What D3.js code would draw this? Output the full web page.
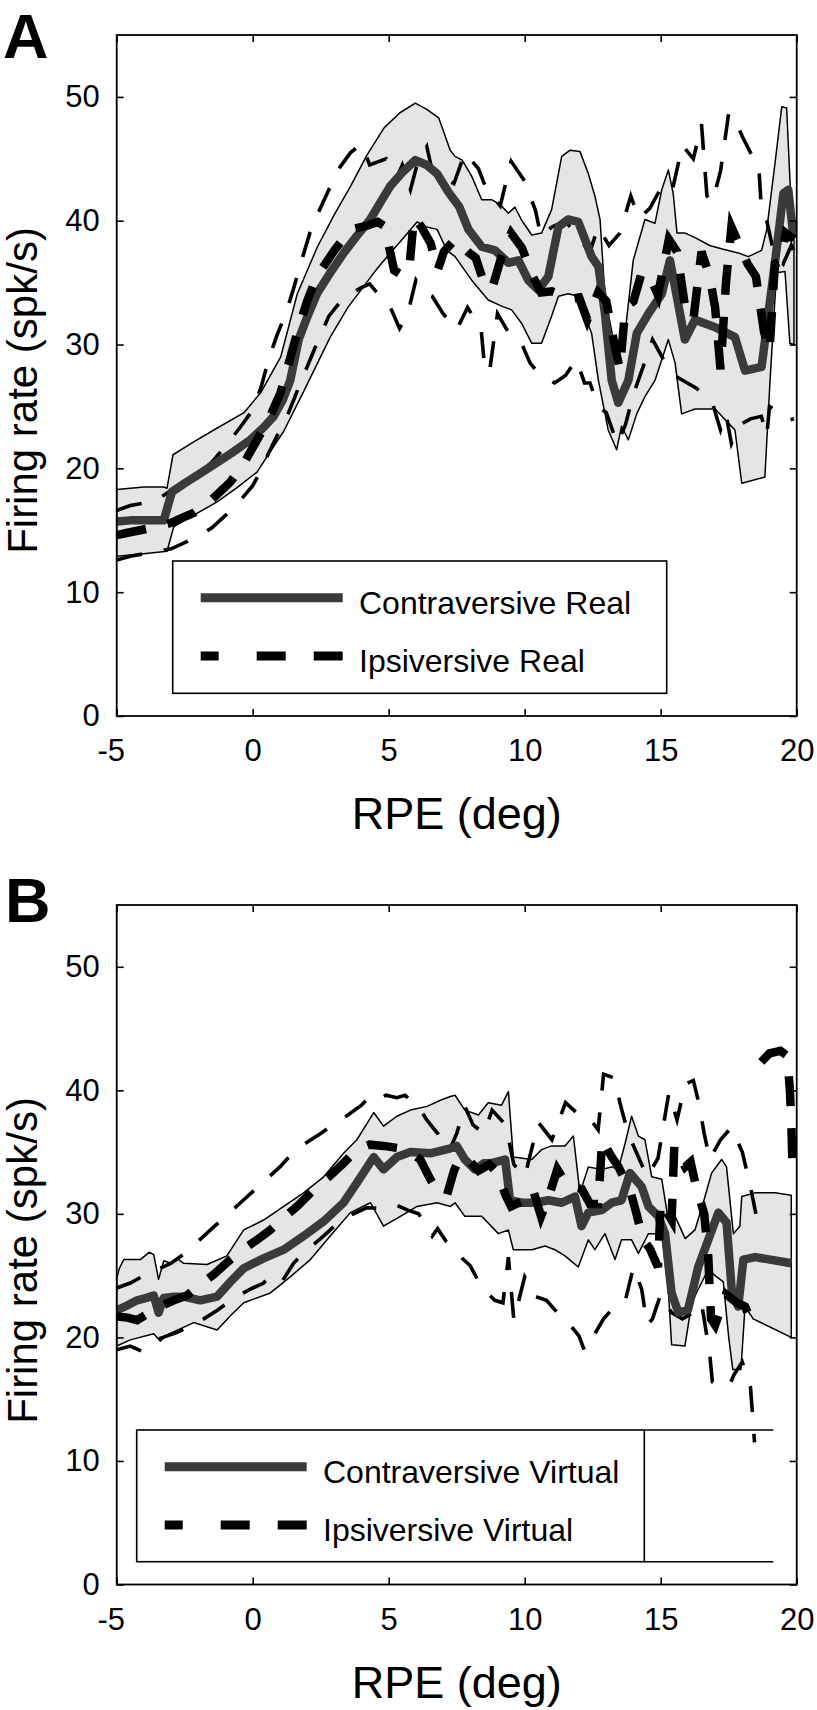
<!DOCTYPE html>
<html><head><meta charset="utf-8">
<script src="https://cdn.jsdelivr.net/npm/d3@7"></script>
<style>
body{margin:0;background:#fff}
svg{display:block}
text{font-family:"Liberation Sans",Arial,Helvetica,sans-serif;fill:#000}
</style>
</head><body>
<svg id="c" width="817" height="1710"></svg>
<script>
// ---------- tick values / domains ----------
const xTicks = [-5, 0, 5, 10, 15, 20];
const yTicks = [0, 10, 20, 30, 40, 50];
const xDomain = [-5, 20];
const yDomain = [0, 55];
const xLabel = "RPE (deg)";
const yLabel = "Firing rate (spk/s)";
const legendA = ["Contraversive Real", "Ipsiversive Real"];
const legendB = ["Contraversive Virtual", "Ipsiversive Virtual"];

// ---------- Panel A (Real) ----------
const contraA_mean = [[-5,15.7],[-4.5,15.8],[-4,15.8],[-3.5,15.8],[-3.27,15.8],[-2.97,18.1],[-2.5,18.8],[-2,19.5],[-1.43,20.3],[-0.8,21.2],[-0.09,22.3],[0.4,23.3],[0.77,24.2],[1.1,25.5],[1.38,27.1],[1.69,30.4],[2.0,32.2],[2.36,34.1],[2.85,35.8],[3.35,37.4],[3.8,38.7],[4.32,40.1],[4.7,41.5],[5.06,42.8],[5.5,43.9],[5.98,44.9],[6.4,44.5],[6.78,43.8],[7.2,42.3],[7.6,41.1],[7.93,39.3],[8.42,37.9],[8.91,37.6],[9.4,36.6],[9.77,36.8],[10.13,35.2],[10.5,34.4],[10.87,35.5],[11.24,39.5],[11.6,40.1],[11.97,39.9],[12.46,37.1],[12.71,36.3],[12.95,32.5],[13.2,27.1],[13.44,25.3],[13.81,27.1],[14.12,30.9],[14.55,32.5],[15.04,34.1],[15.34,36.8],[15.59,33.9],[15.89,30.4],[16.26,32.0],[17.0,31.4],[17.73,30.6],[18.1,27.9],[18.71,28.2],[18.96,32.5],[19.2,36.6],[19.51,42.2],[19.69,42.5],[19.88,38.7]];
const contraA_upper = [[-5,18.3],[-4,18.5],[-3.27,18.5],[-3.15,18.4],[-2.93,21.1],[-2.2,22.1],[-1.43,23.1],[-0.32,24.5],[0.29,26.1],[1.03,29.0],[1.64,34.1],[2.38,37.9],[3.0,40.5],[3.6,42.8],[4.2,45.3],[4.83,47.5],[5.4,48.7],[5.98,49.5],[6.4,49.0],[6.84,48.3],[7.26,45.7],[7.44,45.2],[7.7,44.9],[8.05,43.6],[8.42,41.7],[8.78,41.7],[9.1,41.3],[9.4,40.6],[9.64,41.1],[9.9,40.0],[10.26,38.85],[10.62,39.0],[10.99,40.9],[11.36,45.2],[11.67,45.7],[12.03,45.6],[12.34,43.8],[12.58,42.0],[12.77,40.1],[12.95,33.9],[13.38,29.0],[13.69,30.9],[13.99,36.8],[14.42,40.1],[14.79,39.8],[15.04,42.5],[15.28,44.1],[15.46,42.2],[15.6,39.0],[15.9,39.0],[16.3,38.6],[16.8,38.0],[17.3,37.7],[17.85,37.4],[18.22,37.1],[18.71,37.6],[18.9,39.3],[19.2,44.6],[19.45,49.2],[19.63,49.1],[19.81,40.5],[19.9,40.0]];
const contraA_lower = [[-5,12.9],[-4,13.1],[-3.15,13.3],[-2.9,15.3],[-2.1,16.3],[-1.31,17.3],[-0.6,18.4],[0.16,19.7],[0.6,21.2],[1.14,23.0],[1.87,26.2],[2.85,30.6],[3.5,33.0],[4.08,34.7],[4.6,36.2],[5.06,37.4],[5.5,38.5],[6.04,39.9],[6.4,39.5],[6.78,39.3],[7.14,37.6],[7.44,37.1],[8.05,35.2],[8.66,33.6],[9.15,33.1],[9.52,32.8],[9.89,31.7],[10.26,30.1],[10.62,30.1],[10.99,32.3],[11.24,33.9],[11.6,34.1],[11.97,33.9],[12.22,32.3],[12.46,30.9],[12.71,27.1],[13.07,23.1],[13.38,21.5],[13.56,23.4],[13.81,22.3],[14.12,24.4],[14.42,25.8],[14.79,27.1],[15.28,30.4],[15.53,28.5],[15.77,24.4],[16.26,24.8],[17.0,24.8],[17.73,23.1],[17.98,18.8],[18.83,19.3],[19.02,27.1],[19.26,35.8],[19.57,35.9],[19.75,30.1],[19.9,30.0]];
const ipsiA_mean = [[-5,14.6],[-4.6,14.8],[-4.14,15.0],[-3.5,15.3],[-3.0,15.6],[-2.6,16.0],[-2.17,16.4],[-1.5,17.5],[-0.82,18.9],[-0.3,20.5],[0.16,22.3],[0.6,24.0],[1.02,26.1],[1.3,28.3],[1.63,30.9],[2.0,33.5],[2.36,35.5],[3.0,37.6],[3.6,39.3],[4.2,39.6],[4.6,39.9],[4.82,39.6],[5.0,38.0],[5.2,36.0],[5.5,35.6],[5.75,36.0],[5.93,40.3],[6.2,39.5],[6.54,38.2],[6.8,36.0],[7.03,37.5],[7.44,38.5],[7.9,37.5],[8.2,37.0],[8.5,35.0],[8.8,34.5],[9.2,37.5],[9.5,39.0],[9.9,37.8],[10.3,35.5],[10.6,34.2],[11.0,34.3],[11.4,34.0],[11.7,33.7],[12.0,33.8],[12.3,32.0],[12.7,34.2],[13.0,33.5],[13.3,30.0],[13.5,28.0],[13.7,33.0],[14.0,33.5],[14.3,35.8],[14.6,35.5],[14.9,34.0],[15.3,38.5],[15.6,37.5],[15.9,33.0],[16.2,32.0],[16.5,37.5],[16.8,35.5],[17.0,33.0],[17.2,28.0],[17.4,35.0],[17.6,39.5],[17.9,38.0],[18.2,36.5],[18.5,35.5],[18.8,31.0],[19.0,29.5],[19.2,36.5],[19.4,36.7],[19.6,39.0],[19.9,38.5]];
const ipsiA_upper = [[-5,16.6],[-4.5,17.0],[-4,17.2],[-3.5,17.5],[-3,18.2],[-2.5,18.8],[-2,19.5],[-1.5,20.5],[-1,21.8],[-0.5,23.2],[0,24.7],[0.3,26.5],[0.6,28.9],[0.9,30.8],[1.2,32.4],[1.5,34.5],[1.8,36.8],[2.1,39.0],[2.4,40.6],[2.8,42.5],[3.2,44.3],[3.6,45.5],[4.0,46.2],[4.3,44.5],[4.9,45.0],[5.2,43.0],[5.5,44.5],[5.8,42.5],[6.1,45.0],[6.4,46.0],[6.6,44.0],[7.0,43.5],[7.4,43.0],[7.8,45.5],[8.3,44.2],[8.6,42.5],[9.1,41.2],[9.5,44.8],[10.0,43.2],[10.4,40.8],[10.6,38.7],[11.0,39.5],[11.5,40.0],[12.0,38.5],[12.4,37.5],[12.7,39.5],[13.1,38.0],[13.5,39.0],[13.9,42.0],[14.2,40.2],[14.6,41.0],[15.0,42.6],[15.4,42.2],[15.8,46.1],[16.2,45.0],[16.5,47.8],[16.7,42.0],[16.9,41.5],[17.2,44.0],[17.5,48.7],[17.8,47.8],[18.0,46.8],[18.3,45.5],[18.6,44.6],[18.7,41.0],[18.9,40.0],[19.2,37.0],[19.5,36.5],[19.8,38.0],[19.9,37.5]];
const ipsiA_lower = [[-5,12.6],[-4.5,12.9],[-4,13.1],[-3.5,13.3],[-3,13.5],[-2.5,14.0],[-2,14.5],[-1.5,15.2],[-1,16.2],[-0.5,17.3],[0,18.6],[0.3,19.8],[0.6,21.3],[1.0,23.1],[1.3,24.4],[1.7,26.6],[2.0,28.2],[2.4,30.3],[2.8,32.3],[3.2,33.4],[3.6,34.1],[4.0,34.6],[4.3,34.9],[4.6,34.1],[4.9,33.6],[5.1,32.8],[5.4,31.3],[5.7,32.5],[6.0,35.2],[6.3,34.2],[6.6,33.9],[7.0,32.5],[7.5,31.2],[7.9,33.0],[8.4,31.2],[8.5,28.8],[8.7,27.7],[9.0,32.5],[9.5,30.6],[9.9,30.0],[10.2,28.5],[10.5,27.7],[11.1,26.9],[11.5,27.5],[11.9,28.8],[12.2,26.9],[12.4,26.9],[12.7,25.0],[13.0,24.5],[13.4,22.0],[13.7,23.5],[14.0,26.0],[14.4,28.5],[14.7,30.4],[15.1,28.8],[15.5,27.5],[15.9,27.0],[16.3,26.5],[16.9,25.3],[17.2,23.1],[17.4,24.4],[17.6,22.0],[17.9,23.5],[18.3,24.0],[18.7,24.2],[18.9,22.6],[19.0,25.0],[19.3,24.6],[19.7,23.9],[19.9,24.0]];

// ---------- Panel B (Virtual) ----------
const contraB_mean = [[-5,22.2],[-4.6,22.6],[-4.25,23.0],[-3.9,23.2],[-3.64,23.4],[-3.46,22.0],[-3.27,23.2],[-2.9,23.3],[-2.54,23.3],[-1.93,23.0],[-1.31,23.3],[-0.82,24.5],[-0.33,25.6],[0.4,26.4],[1.14,27.1],[1.87,28.2],[2.61,29.4],[3.34,30.9],[3.83,32.5],[4.45,34.6],[4.81,33.6],[5.3,34.6],[5.8,35.0],[6.53,34.9],[7.27,35.3],[7.5,35.5],[7.8,34.4],[8.17,33.6],[8.5,34.1],[8.78,34.1],[9.28,34.4],[9.46,31.1],[9.89,30.9],[10.38,30.9],[10.87,31.1],[11.36,30.9],[11.85,31.4],[12.09,29.0],[12.34,30.1],[12.83,30.3],[13.2,30.9],[13.56,31.1],[13.87,33.3],[14.3,32.2],[14.55,30.6],[14.91,29.8],[15.16,28.4],[15.4,23.6],[15.65,22.0],[16.0,22.2],[16.38,25.7],[16.75,27.9],[17.12,30.1],[17.42,29.3],[17.61,23.9],[17.85,22.5],[18.04,26.3],[18.47,26.5],[19.81,26.0]];
const contraB_upper = [[-5,24.8],[-4.9,25.6],[-4.74,26.3],[-4.13,26.3],[-3.8,26.9],[-3.64,26.7],[-3.46,24.7],[-3.27,26.2],[-3.0,26.0],[-2.78,26.4],[-2.54,26.0],[-1.68,25.9],[-0.95,26.6],[-0.6,27.8],[-0.33,28.7],[0.4,29.5],[1.14,30.6],[1.87,31.7],[2.61,33.0],[3.34,34.9],[3.83,36.0],[4.45,38.2],[4.81,37.1],[5.3,37.9],[5.8,38.4],[6.41,38.7],[6.9,39.2],[7.27,39.5],[7.44,39.6],[7.8,38.4],[8.3,38.0],[8.66,39.0],[9.15,38.8],[9.4,39.9],[9.58,34.6],[10.26,34.4],[10.62,35.2],[10.99,35.5],[11.48,35.5],[11.79,36.3],[12.03,31.7],[12.34,33.8],[12.83,33.6],[13.2,33.8],[13.44,33.6],[13.69,35.7],[13.93,37.9],[14.18,36.3],[14.42,36.0],[14.67,33.0],[15.04,32.8],[15.28,29.5],[15.53,29.8],[15.9,28.0],[16.26,28.7],[16.63,31.4],[16.87,33.3],[17.24,34.4],[17.42,33.8],[17.67,28.4],[17.91,29.0],[17.98,31.4],[18.47,31.7],[19.2,31.7],[19.8,31.5]];
const contraB_lower = [[-5,19.3],[-4.5,19.8],[-3.64,20.3],[-3.4,19.7],[-3.15,20.2],[-2.17,21.2],[-1.31,20.6],[-0.8,21.8],[-0.33,22.8],[0.65,23.6],[1.38,24.9],[2.12,26.3],[2.85,28.2],[3.59,30.1],[4.33,30.9],[4.81,29.0],[5.43,29.8],[6.04,30.6],[6.78,30.9],[7.27,30.6],[7.44,30.9],[7.8,29.8],[8.42,29.8],[9.03,28.4],[9.4,28.7],[9.58,27.1],[10.26,27.1],[10.75,27.4],[11.11,27.1],[11.48,26.6],[11.97,25.7],[12.34,27.9],[12.58,27.1],[12.95,28.4],[13.32,26.3],[13.56,27.9],[13.93,27.9],[14.18,26.8],[14.55,28.4],[15.04,28.4],[15.28,23.9],[15.4,19.4],[15.89,19.3],[16.14,22.8],[16.38,23.9],[16.75,25.5],[17.0,25.0],[17.3,24.5],[17.5,20.0],[17.65,17.4],[17.95,17.4],[18.1,22.5],[18.4,21.5],[19.8,20.0]];
const ipsiB_mean = [[-5,21.7],[-4.6,21.6],[-4.25,21.4],[-3.8,22.0],[-3.4,22.5],[-2.9,23.0],[-2.42,23.4],[-1.9,24.3],[-1.43,25.1],[-0.82,26.3],[-0.3,27.2],[0.16,27.9],[0.65,28.7],[1.1,29.6],[1.63,30.6],[2.36,32.2],[2.8,33.0],[3.34,34.1],[3.83,35.2],[4.3,35.6],[4.81,35.5],[5.43,35.3],[5.8,35.0],[6.16,34.4],[6.53,32.8],[6.8,31.8],[7.14,31.5],[7.4,33.5],[7.63,34.6],[8.0,34.2],[8.3,33.5],[8.7,34.0],[9.0,33.3],[9.3,31.5],[9.5,30.6],[9.9,31.0],[10.3,32.0],[10.6,29.8],[10.9,31.5],[11.2,33.6],[11.6,32.2],[12.1,32.0],[12.4,30.8],[12.7,30.8],[12.85,36.0],[13.2,34.6],[13.45,33.8],[13.9,31.7],[14.1,30.1],[14.35,27.9],[14.6,27.2],[14.9,25.7],[15.0,31.0],[15.4,29.5],[15.5,35.5],[15.9,33.8],[16.1,34.2],[16.3,32.2],[16.6,30.0],[16.75,26.5],[16.85,21.5],[17.0,21.0],[17.4,23.5],[17.8,22.8],[18.1,22.5],[18.3,21.5],[18.5,20.6],[18.6,null],[18.7,42.3],[19.0,43.0],[19.4,43.2],[19.65,42.8],[19.75,40.0],[19.8,37.5],[19.85,33.5]];
const ipsiB_upper = [[-5,24.0],[-4.5,24.4],[-4,25.0],[-3.5,25.5],[-3,26.0],[-2.5,26.8],[-2,27.8],[-1.5,28.8],[-1,29.8],[-0.5,30.8],[0,31.8],[0.5,32.8],[1.0,33.8],[1.5,35.0],[2.0,35.8],[2.5,36.5],[3.0,37.3],[3.5,38.0],[4.0,38.8],[4.3,39.5],[4.6,39.2],[4.9,39.6],[5.3,39.4],[5.6,39.6],[5.9,39.0],[6.2,38.3],[6.4,37.6],[6.8,36.5],[7.2,35.0],[7.5,36.5],[7.8,38.7],[8.1,37.2],[8.5,36.5],[8.8,38.4],[9.3,37.2],[9.6,34.0],[10.0,33.0],[10.5,37.4],[11.0,36.0],[11.5,39.0],[11.9,38.2],[12.3,38.0],[12.7,36.8],[12.9,41.3],[13.3,41.0],[13.5,39.0],[13.8,36.5],[14.1,35.0],[14.5,33.0],[14.9,34.5],[15.3,39.8],[15.6,37.6],[15.9,40.5],[16.2,40.8],[16.4,39.0],[16.6,36.5],[16.8,34.4],[17.2,36.0],[17.6,37.0],[18.0,35.0],[18.3,32.2],[18.5,30.0]];
const ipsiB_lower = [[-5,19.0],[-4.5,19.3],[-4.1,18.9],[-3.6,19.8],[-3.3,20.0],[-2.8,20.4],[-2.3,20.9],[-1.8,21.5],[-1.3,22.2],[-0.6,23.3],[0,24.0],[0.4,24.4],[0.7,25.1],[1.1,24.6],[1.5,26.0],[1.9,26.9],[2.6,28.2],[3.1,29.2],[3.6,29.9],[4.2,30.5],[4.9,30.4],[5.3,30.7],[5.7,30.3],[6.1,30.0],[6.4,29.0],[6.6,28.2],[6.8,28.8],[7.1,27.8],[7.4,27.2],[7.7,26.4],[8.0,25.8],[8.4,24.1],[8.9,23.0],[9.2,22.8],[9.4,26.5],[9.6,21.4],[10.0,24.9],[10.4,23.3],[10.8,23.0],[11.2,22.0],[11.6,21.2],[12.0,20.1],[12.2,18.9],[12.5,20.0],[12.9,21.5],[13.3,22.5],[13.7,23.0],[14.0,25.7],[14.3,23.9],[14.5,21.0],[14.7,21.5],[15.0,23.5],[15.4,22.0],[15.8,21.5],[16.2,22.0],[16.5,22.8],[16.8,18.7],[16.9,16.4],[17.5,16.0],[17.7,17.0],[18.0,18.0],[18.3,16.0],[18.45,11.5]];

// ---------- drawing ----------
const svg = d3.select("#c");
const x = d3.scaleLinear().domain(xDomain).range([116.7, 796.7]);

const panels = [
  {letter:"A", top:35, bottom:716, letterX:3, letterY:58,
   mean:contraA_mean, upper:contraA_upper, lower:contraA_lower,
   imean:ipsiA_mean, iupper:ipsiA_upper, ilower:ipsiA_lower,
   legend:legendA, lgX:172.7, lgY:561, lgW:494, lgH:132.3, lgExt:0},
  {letter:"B", top:905, bottom:1584.5, letterX:5, letterY:922,
   mean:contraB_mean, upper:contraB_upper, lower:contraB_lower,
   imean:ipsiB_mean, iupper:ipsiB_upper, ilower:ipsiB_lower,
   legend:legendB, lgX:136.7, lgY:1430, lgW:507.6, lgH:131.7, lgExt:129}
];

const CONTRA = "#3a3a3a", BAND = "#e5e5e5";
const fmt = d => String(d);   // plain hyphen-minus like the original

panels.forEach(p => {
  const y = d3.scaleLinear().domain(yDomain).range([p.bottom, p.top]);
  const g = svg.append("g");
  const clipId = "clip" + p.letter;
  svg.append("clipPath").attr("id", clipId).append("rect")
    .attr("x", x(xDomain[0])).attr("y", p.top)
    .attr("width", x(xDomain[1]) - x(xDomain[0])).attr("height", p.bottom - p.top);
  const plot = g.append("g").attr("clip-path", `url(#${clipId})`);
  const line = d3.line().defined(d => d[1] != null).x(d => x(d[0])).y(d => y(d[1]));

  // confidence band (contraversive)
  const poly = p.upper.concat(p.lower.slice().reverse());
  plot.append("path").attr("d", line(poly) + "Z")
    .attr("fill", BAND).attr("stroke", "#000").attr("stroke-width", 1.5).attr("stroke-linejoin", "round");

  // ipsiversive bounds (thin dashed)
  [p.ilower, p.iupper].forEach(s => {
    plot.append("path").attr("d", line(s)).attr("fill", "none")
      .attr("stroke", "#000").attr("stroke-width", 3.6).attr("stroke-dasharray", "26,22");
  });
  // contraversive mean
  plot.append("path").attr("d", line(p.mean)).attr("fill", "none")
    .attr("stroke", CONTRA).attr("stroke-width", 8.5).attr("stroke-linejoin", "round");
  // ipsiversive mean (thick dashed)
  plot.append("path").attr("d", line(p.imean)).attr("fill", "none")
    .attr("stroke", "#000").attr("stroke-width", 8.5).attr("stroke-dasharray", "30,22");

  // legend
  const lg = g.append("g").attr("transform", `translate(${p.lgX},${p.lgY})`);
  lg.append("rect").attr("width", p.lgW).attr("height", p.lgH)
    .attr("fill", "#fff").attr("stroke", "#000").attr("stroke-width", 1.6);
  if (p.lgExt > 0) {
    [0, p.lgH].forEach(yy => lg.append("line").attr("x1", p.lgW).attr("x2", p.lgW + p.lgExt)
      .attr("y1", yy).attr("y2", yy).attr("stroke", "#000").attr("stroke-width", 1.6));
  }
  lg.append("line").attr("x1", 28).attr("x2", 170).attr("y1", 36.7).attr("y2", 36.7)
    .attr("stroke", CONTRA).attr("stroke-width", 9);
  lg.append("line").attr("x1", 28).attr("x2", 170).attr("y1", 95).attr("y2", 95)
    .attr("stroke", "#000").attr("stroke-width", 9).attr("stroke-dasharray", "18,38,29,28,29");
  lg.append("text").attr("x", 186.3).attr("y", 52.5).attr("font-size", 32).text(p.legend[0]);
  lg.append("text").attr("x", 186.3).attr("y", 110.7).attr("font-size", 32).text(p.legend[1]);

  // axes
  const axB = g.append("g").attr("transform", `translate(0,${p.bottom})`)
    .call(d3.axisBottom(x).tickValues(xTicks).tickFormat(fmt).tickSizeInner(-7).tickSizeOuter(0).tickPadding(23));
  axB.selectAll("text").attr("font-size", 31).attr("dx", d => d < 0 ? -6 : 0);
  const axT = g.append("g").attr("transform", `translate(0,${p.top})`)
    .call(d3.axisTop(x).tickValues(xTicks).tickSizeInner(-7).tickSizeOuter(0).tickFormat(""));
  const axL = g.append("g").attr("transform", `translate(${x(xDomain[0])},0)`)
    .call(d3.axisLeft(y).tickValues(yTicks).tickFormat(fmt).tickSizeInner(-7).tickSizeOuter(0).tickPadding(17));
  axL.selectAll("text").attr("font-size", 31);
  const axR = g.append("g").attr("transform", `translate(${x(xDomain[1])},0)`)
    .call(d3.axisRight(y).tickValues(yTicks).tickSizeInner(-7).tickSizeOuter(0).tickFormat(""));
  [axB, axT, axL, axR].forEach(a => {
    a.select(".domain").remove();
    a.selectAll("line").attr("stroke", "#000").attr("stroke-width", 1.6);
    a.selectAll("text").attr("fill", "#000").attr("font-family", '"Liberation Sans",Arial,Helvetica,sans-serif');
  });
  g.append("rect").attr("x", x(xDomain[0])).attr("y", p.top)
    .attr("width", x(xDomain[1]) - x(xDomain[0])).attr("height", p.bottom - p.top)
    .attr("fill", "none").attr("stroke", "#000").attr("stroke-width", 1.8);

  // axis titles
  g.append("text").attr("x", (x(xDomain[0]) + x(xDomain[1])) / 2).attr("y", p.bottom + 113)
    .attr("text-anchor", "middle").attr("font-size", 45).text(xLabel);
  g.append("text").attr("transform", `translate(37,${p.top + 355.5}) rotate(-90)`)
    .attr("text-anchor", "middle").attr("font-size", 42).text(yLabel);
  // panel letter
  g.append("text").attr("x", p.letterX).attr("y", p.letterY)
    .attr("font-size", 63).attr("font-weight", "bold").text(p.letter);
});
</script>
</body></html>
